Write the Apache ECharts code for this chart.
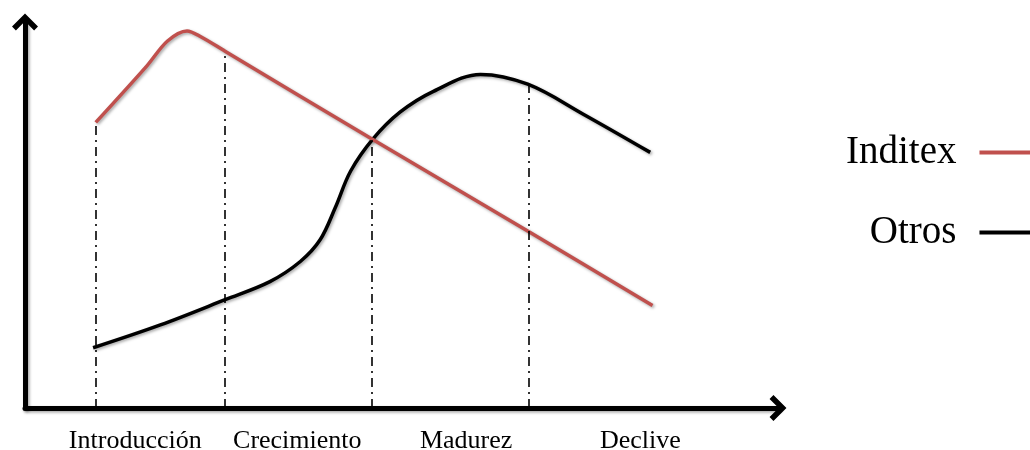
<!DOCTYPE html>
<html>
<head>
<meta charset="utf-8">
<script src="https://cdn.jsdelivr.net/npm/echarts@6/dist/echarts.min.js"></script>
<style>html,body{margin:0;padding:0;background:#fff}#c{width:1030px;height:450px}</style>
</head>
<body>
<div id="c"></div>
<script>
// Stage labels and their positions on the horizontal axis
const stageNames = ['Introducción', 'Crecimiento', 'Madurez', 'Declive'];
const stageLabelPos = [14.5, 35.8, 58.0, 80.9];

// Inditex curve (x, y)
const inditexX = [9.3, 16.0, 18.7, 21.3, 23.0, 26.3, 45.5, 66.2, 82.5];
const inditexY = [72.5, 86.8, 93.1, 95.7, 94.4, 90.6, 68.4, 44.8, 26.0];

// Otros curve (x, y)
const otrosX = [8.95, 17.8, 26.3, 32.2, 36.2, 38.8, 40.8, 42.8, 45.7, 49.3, 53.7, 59.9, 66.1, 73.4, 82.2];
const otrosY = [15.3, 21.1, 27.5, 32.1, 37.2, 42.7, 50.9, 60.1, 68.2, 75.1, 80.4, 84.7, 82.2, 74.6, 64.9];

// Vertical dash-dot dividers (x position and top height)
const dividerX = [9.3, 26.3, 45.6, 66.2];
const dividerTop = [72.5, 90.6, 68.3, 82.2];

const zip = (xs, ys) => xs.map((x, i) => [x, ys[i]]);

const shadow = { shadowColor: 'rgba(0,0,0,0.35)', shadowBlur: 3, shadowOffsetX: 1.5, shadowOffsetY: 1.5 };
const chevron = 'path://M0,10 L10,0 L20,10 L17,13 L10,6 L3,13 Z';

const chart = echarts.init(document.getElementById('c'), null, { renderer: 'canvas' });
chart.setOption({
  animation: false,
  backgroundColor: '#fff',
  grid: { left: 25, right: 252, top: 22, bottom: 42, outerBoundsMode: 'none', containLabel: false },
  legend: {
    orient: 'vertical',
    left: 841,
    top: 125,
    align: 'right',
    itemWidth: 70,
    itemHeight: 4,
    itemGap: 35,
    icon: 'rect',
    textStyle: { fontFamily: 'Liberation Serif', fontSize: 39, color: '#000', lineHeight: 45, padding: [0, 18, 0, 0] },
    data: ['Inditex', 'Otros']
  },
  xAxis: {
    type: 'value', min: 0, max: 99,
    splitLine: { show: false },
    axisTick: { show: false },
    axisLine: { show: true, onZero: false, symbol: ['none', chevron], symbolSize: [26, 20],
      lineStyle: Object.assign({ color: '#000', width: 5 }, shadow) },
    axisLabel: {
      customValues: stageLabelPos,
      margin: 20,
      fontFamily: 'Liberation Serif', fontSize: 26, color: '#000',
      formatter: v => stageNames[stageLabelPos.indexOf(v)] || ''
    }
  },
  yAxis: {
    type: 'value', min: 0, max: 98,
    splitLine: { show: false },
    axisTick: { show: false },
    axisLabel: { show: false },
    axisLine: { show: true, onZero: false, symbol: ['none', chevron], symbolSize: [26, 20],
      lineStyle: Object.assign({ color: '#000', width: 5 }, shadow) }
  },
  series: [
    {
      name: 'Inditex', type: 'line', smooth: 0.3, showSymbol: false, clip: false,
      data: zip(inditexX, inditexY),
      itemStyle: { color: '#C0504D' },
      lineStyle: Object.assign({ color: '#C0504D', width: 3.5 }, shadow),
      z: 4,
      markLine: {
        silent: true, symbol: 'none', label: { show: false },
        lineStyle: { color: '#000', width: 1.6, type: [9, 5, 2, 5] },
        data: dividerX.map((x, i) => [{ coord: [x, 0] }, { coord: [x, dividerTop[i]] }])
      }
    },
    {
      name: 'Otros', type: 'line', smooth: 0.35, showSymbol: false, clip: false,
      data: zip(otrosX, otrosY),
      itemStyle: { color: '#000' },
      lineStyle: Object.assign({ color: '#000', width: 3.5 }, shadow),
      z: 3
    }
  ]
});
</script>
</body>
</html>
